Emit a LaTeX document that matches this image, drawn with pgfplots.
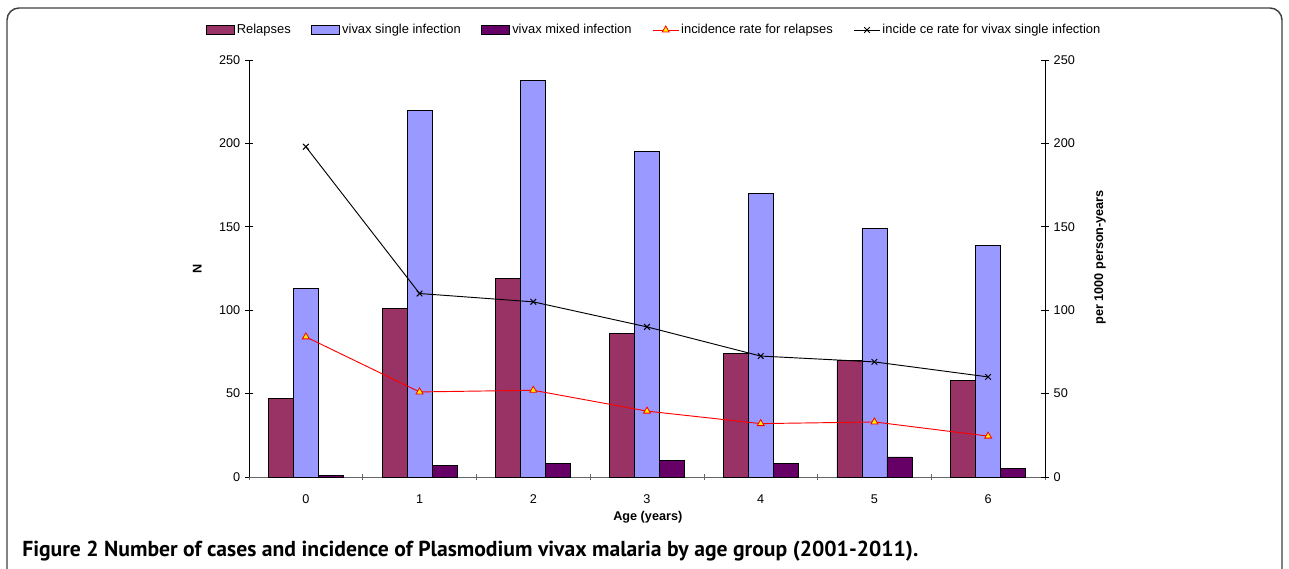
\documentclass[border=0pt]{standalone}
\usepackage{pgfplots}
\pgfplotsset{compat=1.18}
\usepackage{fontspec}
\setmainfont{Liberation Sans}
\newfontfamily\capfont{PT Sans}

\definecolor{relapse}{HTML}{993366}
\definecolor{single}{HTML}{9999FF}
\definecolor{mixed}{HTML}{660066}

% 1 px of the reference = 0.75pt
\pgfplotsset{
  chartbase/.style={
    at={(186.75pt,68.25pt)}, anchor=south west,
    scale only axis, width=597pt, height=312.75pt,
    xmin=-0.5, xmax=6.5, ymin=0, ymax=250,
    ytick={0,50,...,250},
    axis line style={-, black},
    tick align=center, major tick length=6pt,
    tick style={black, line width=0.5pt},
    ticklabel style={font=\fontsize{9.5}{11}\selectfont},
    /pgf/number format/assume math mode=true,
    label style={font=\fontsize{9.5}{11}\selectfont\bfseries},
  },
  barlegend/.style={legend image code/.code={\draw[##1] (0pt,-3.5pt) rectangle (21pt,3.5pt);}},
  linelegend/.style={legend image code/.code={\draw[mark repeat=2, mark phase=2, ##1]
    plot coordinates {(0pt,0pt) (9.75pt,0pt) (19.5pt,0pt)};}},
}

\begin{document}
\begin{tikzpicture}
\useasboundingbox (0,0) rectangle (966.75pt,426pt);
\draw[line width=1.1pt, black!75, rounded corners=9pt]
  (5.25pt,-10pt) -- (5.25pt,420pt) -- (961.5pt,420pt) -- (961.5pt,-10pt);

% bars, left axis
\begin{axis}[chartbase,
  axis x line*=bottom, axis y line*=left,
  x axis line style={black!60},
  xtick={0,...,6},
  major x tick style={draw=none},
  minor xtick={-0.5,0.5,...,6.5},
  minor x tick style={black!60, line width=0.5pt},
  minor tick length=4.5pt,
  xticklabel style={yshift=-7pt},
  xlabel={Age (years)},
  xlabel style={at={(axis description cs:0.501,-0.096)}, anchor=center},
  ylabel={N},
  ylabel style={at={(axis description cs:-0.065,0.5)}, anchor=center},
  bar width=0.22,
  every axis plot/.append style={ybar, draw=black, line width=0.6pt},
]
\addplot[fill=relapse, bar shift=-0.22] coordinates {(0,47) (1,101) (2,119) (3,86) (4,74) (5,70) (6,58)};
\addplot[fill=single, bar shift=0] coordinates {(0,113) (1,220) (2,238) (3,195) (4,170) (5,149) (6,139)};
\addplot[fill=mixed, bar shift=0.22] coordinates {(0,1) (1,7) (2,8) (3,10) (4,8) (5,12) (6,5)};
\end{axis}

% incidence rates, right axis
\begin{axis}[chartbase,
  axis x line=none, axis y line*=right,
  ylabel={per 1000 person-years},
  ylabel style={at={(axis description cs:1.069,0.527)}, anchor=center},
  legend style={at={(axis description cs:0.509,1.072)}, anchor=center, draw=none,
    font=\fontsize{9.7}{11}\selectfont, legend columns=-1,
    nodes={inner xsep=1.5pt},
    /tikz/every even column/.append style={column sep=14pt}},
  legend entries={Relapses, vivax single infection, vivax mixed infection,
    incidence rate for relapses, incide ce rate for vivax single infection},
  linelegend,
]
\addlegendimage{fill=relapse, draw=black, line width=0.6pt, barlegend}
\addlegendimage{fill=single, draw=black, line width=0.6pt, barlegend}
\addlegendimage{fill=mixed, draw=black, line width=0.6pt, barlegend}
\addplot[red, line width=0.7pt, mark=triangle*, mark size=3pt,
  mark options={fill=yellow, draw=red, line width=0.6pt}]
  coordinates {(0,84) (1,51) (2,52) (3,39.5) (4,32) (5,33) (6,24.5)};
\addplot[black, line width=0.7pt, mark=x, mark size=3pt]
  coordinates {(0,198) (1,110) (2,105) (3,90) (4,72.5) (5,69) (6,60)};
\end{axis}

\node[anchor=west, inner sep=0pt] at (16.5pt,12.75pt)
  {\resizebox{672pt}{!}{\capfont\bfseries Figure 2 Number of cases and incidence of Plasmodium vivax malaria by age group (2001-2011).}};
\end{tikzpicture}
\end{document}
